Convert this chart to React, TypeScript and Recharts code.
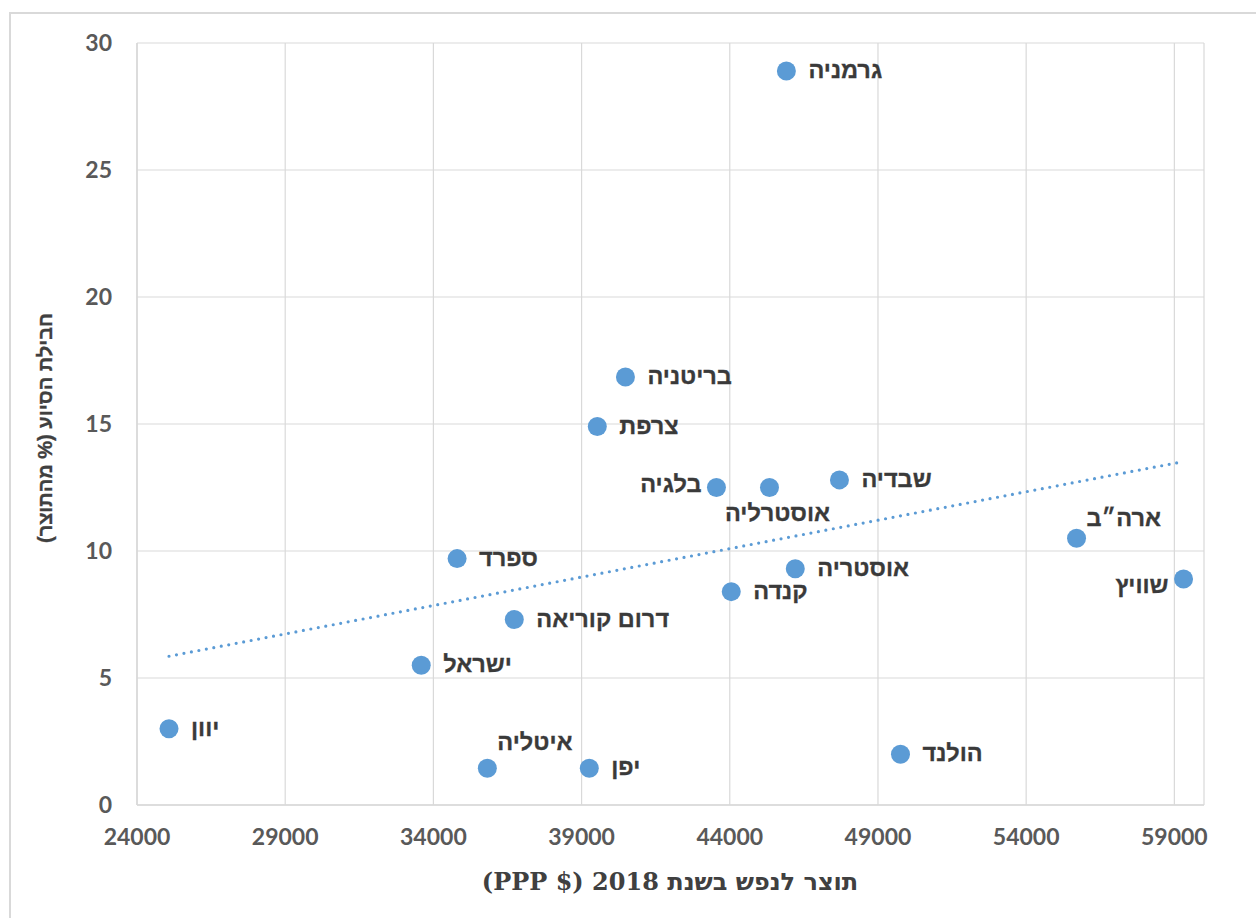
import { ScatterChart, Scatter, XAxis, YAxis, CartesianGrid, ReferenceLine } from "recharts";

// GDP per capita 2018 (PPP $) vs. aid package (% of GDP)
const countries = [
  "יוון", "ישראל", "ספרד", "דרום קוריאה", "איטליה", "יפן", "צרפת", "בריטניה", "בלגיה",
  "אוסטרליה", "שבדיה", "גרמניה", "קנדה", "אוסטריה", "הולנד", "ארה״ב", "שוויץ",
];
const gdpPerCapita = [
  25080, 33590, 34800, 36730, 35820, 39260, 39530, 40480, 43550,
  45340, 47700, 45910, 44050, 46210, 49760, 55700, 59310,
];
const aidShare = [
  3.0, 5.5, 9.7, 7.3, 1.45, 1.45, 14.9, 16.85, 12.5,
  12.5, 12.8, 28.9, 8.4, 9.3, 2.0, 10.5, 8.9,
];
const xTicks = [24000, 29000, 34000, 39000, 44000, 49000, 54000, 59000];
const yTicks = [0, 5, 10, 15, 20, 25, 30];

// where each data label sits relative to its marker
const labelPlacement: Record<string, [string, number]> = {
  "בלגיה": ["left", -4],
  "שוויץ": ["left", 6],
  "אוסטרליה": ["below", 25],
  "איטליה": ["aboveRight", -26],
  "ארה״ב": ["aboveRight", -20],
};

const data = countries.map((name, i) => ({ name, x: gdpPerCapita[i], y: aidShare[i] }));

// linear trendline (least squares)
const n = data.length;
const mx = data.reduce((s, d) => s + d.x, 0) / n;
const my = data.reduce((s, d) => s + d.y, 0) / n;
const slope =
  data.reduce((s, d) => s + (d.x - mx) * (d.y - my), 0) /
  data.reduce((s, d) => s + (d.x - mx) ** 2, 0);
const xMin = Math.min(...gdpPerCapita);
const xMax = Math.max(...gdpPerCapita);
const trend = [
  { x: xMin, y: my + slope * (xMin - mx) },
  { x: xMax, y: my + slope * (xMax - mx) },
];

const BLUE = "#5B9BD5";
const LABEL_FONT = "'Liberation Sans', 'DejaVu Sans', sans-serif";

function Dot(props: any) {
  const { cx, cy, payload } = props;
  const [side, dy] = labelPlacement[payload.name] || ["right", -1];
  let tx = cx + 22;
  let anchor = "start";
  if (side === "left") {
    tx = cx - 15;
    anchor = "end";
  } else if (side === "below") {
    tx = cx + 8;
    anchor = "middle";
  } else if (side === "aboveRight") {
    tx = cx + 10;
    anchor = "start";
  }
  return (
    <g>
      <circle cx={cx} cy={cy} r={9.5} fill={BLUE} />
      <text
        x={tx}
        y={cy + dy}
        textAnchor={anchor}
        dominantBaseline="central"
        fontFamily={LABEL_FONT}
        fontWeight="bold"
        fontSize={23.5}
        fill="#3A3A3A"
        stroke="#3A3A3A"
        strokeWidth={0.3}
      >
        {payload.name}
      </text>
    </g>
  );
}

const tickStyle = { fontFamily: "Lato, sans-serif", fontWeight: 700, fontSize: 23, fill: "#595959" };

export default function App() {
  return (
    <div style={{ position: "fixed", left: 0, top: 0, width: 1256, height: 918, overflow: "hidden", background: "#fff" }}>
      <div
        style={{
          position: "absolute",
          left: 9,
          top: 12,
          width: 1400,
          height: 1000,
          border: "2px solid #D9D9D9",
        }}
      />
      <div style={{ position: "absolute", left: 0, top: 0 }}>
        <ScatterChart width={1256} height={918} margin={{ top: 43, right: 52, bottom: 53, left: 0 }}>
          <CartesianGrid stroke="#D9D9D9" strokeWidth={1.2} />
          <XAxis
            type="number"
            dataKey="x"
            domain={[24000, 60000]}
            ticks={xTicks}
            height={60}
            tickLine={false}
            tickSize={0}
            tickMargin={24}
            axisLine={{ stroke: "#D9D9D9", strokeWidth: 1.5 }}
            tick={tickStyle}
            interval={0}
            label={{
              content: () => (
                <text
                  x={670}
                  y={881}
                  textAnchor="middle"
                  dominantBaseline="central"
                  direction="rtl"
                  fontFamily="'DejaVu Serif', 'DejaVu Sans', serif"
                  fontWeight="bold"
                  fontSize={24}
                  fill="#404040"
                >
                  תוצר לנפש בשנת 2018 ($ PPP)
                </text>
              ),
            }}
          />
          <YAxis
            type="number"
            dataKey="y"
            domain={[0, 30]}
            ticks={yTicks}
            width={137}
            tickLine={false}
            tickSize={0}
            tickMargin={25}
            axisLine={{ stroke: "#D9D9D9", strokeWidth: 1.5 }}
            tick={tickStyle}
            interval={0}
            label={{
              content: () => (
                <text
                  x={45}
                  y={428}
                  transform="rotate(-90 45 428)"
                  textAnchor="middle"
                  dominantBaseline="central"
                  direction="rtl"
                  fontFamily={LABEL_FONT}
                  fontWeight="bold"
                  fontSize={20}
                  fill="#404040"
                  stroke="#404040"
                  strokeWidth={0.3}
                >
                  חבילת הסיוע (% מהתוצר)
                </text>
              ),
            }}
          />
          <ReferenceLine
            segment={trend}
            stroke={BLUE}
            strokeWidth={3.2}
            strokeDasharray="0 7.6"
            strokeLinecap="round"
            ifOverflow="visible"
          />
          <Scatter data={data} shape={<Dot />} isAnimationActive={false} />
        </ScatterChart>
      </div>
    </div>
  );
}
